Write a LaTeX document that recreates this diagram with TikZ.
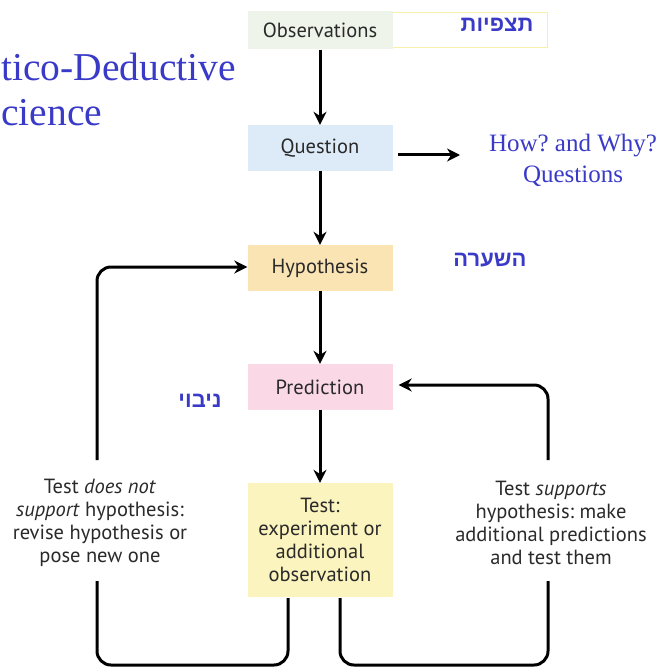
\documentclass[tikz,border=0pt]{standalone}
\usepackage{fontspec}
\setmainfont{Liberation Serif}
\newfontfamily\diagfont{PT Sans}
\newfontfamily\hebfont[Script=Hebrew]{Liberation Sans}
\TeXXeTstate=1
\frenchspacing
\usetikzlibrary{arrows.meta}
\definecolor{titleblue}{HTML}{3A3AC8}
\definecolor{obsfill}{HTML}{EEF4EA}
\definecolor{qfill}{HTML}{DDEBF8}
\definecolor{hfill}{HTML}{FBE4B4}
\definecolor{pfill}{HTML}{FAD8E6}
\definecolor{tfill}{HTML}{FBF4BE}
\definecolor{hebbox}{HTML}{F6F0A8}
\definecolor{txtgray}{HTML}{2A2A2A}
\begin{document}
\begin{tikzpicture}[x=1pt,y=-1pt,
  stepbox/.style={minimum width=145pt, inner sep=0pt, font=\diagfont\fontsize{20.5}{23}\selectfont, text=txtgray, align=center},
  flow/.style={line width=3pt, -{Stealth[length=13pt,width=13pt]}},
  loopline/.style={line width=3pt, rounded corners=14pt},
  side/.style={font=\diagfont\fontsize{20.5}{23}\selectfont, text=txtgray, align=center},
  blue/.style={text=titleblue},
  heb/.style={text=titleblue, font=\hebfont\bfseries\fontsize{22}{24}\selectfont}
]
\useasboundingbox[fill=white] (0,0) rectangle (661,671);
% title
\node[blue, anchor=west, font=\fontsize{39.5}{44}\selectfont, inner sep=0pt] (title1) at (1,67) {tico-Deductive};
\node[blue, anchor=west, font=\fontsize{39.5}{44}\selectfont, inner sep=0pt] (title2) at (1,113) {cience};
% hebrew box top
\node[draw=hebbox, line width=0.8pt, minimum width=166pt, minimum height=35pt, inner sep=0pt] (hbox) at (464,29.5) {};
% boxes
\node[stepbox, fill=obsfill, minimum height=38pt] (obs) at (320,30) {Observations};
\node[stepbox, fill=qfill, minimum height=46pt] (q) at (320,148) {Question};
\node[stepbox, fill=hfill, minimum height=46pt] (h) at (320,268) {Hypothesis};
\node[stepbox, fill=pfill, minimum height=46pt] (p) at (320,387) {Prediction};
\node[stepbox, fill=tfill, minimum height=114pt] (t) at (320,540) {Test:\\experiment or\\additional\\observation};
% hebrew labels
\node[heb] (l1) at (497,25) {\beginR תצפיות\endR};
\node[heb] (l2) at (490,260) {\beginR השערה\endR};
\node[heb] (l3) at (200,401) {\beginR ניבוי\endR};
% how why
\node[blue, font=\fontsize{25}{31}\selectfont, align=center] (hw) at (573,160) {How? and Why?\\Questions};
% side texts
\node[side] (left) at (100,523) {Test \textit{does not}\\\textit{support} hypothesis:\\revise hypothesis or\\pose new one};
\node[side] (right) at (551,523) {Test \textit{supports}\\hypothesis: make\\additional predictions\\and test them};
% coordinates
\coordinate (qr) at (398,155);
\coordinate (qa) at (460,155);
% arrows
\draw[flow] (320,50) -- (q.north);
\draw[flow] (q.south) -- (h.north);
\draw[flow] (h.south) -- (p.north);
\draw[flow] (p.south) -- (t.north);
\draw[flow] (qr) -- (qa);
% left loop
\draw[loopline] (288,598) -- (288,665) -- (97,665) -- (97,581);
\draw[loopline, -{Stealth[length=13pt,width=13pt]}] (97,460) -- (97,267) -- (h.west |- 0,267);
% right loop
\draw[loopline] (340,598) -- (340,665) -- (548,665) -- (548,581);
\draw[loopline, -{Stealth[length=13pt,width=13pt]}] (548,460) -- (548,385) -- ([xshift=6pt]p.east |- 0,385);
\end{tikzpicture}
\end{document}
